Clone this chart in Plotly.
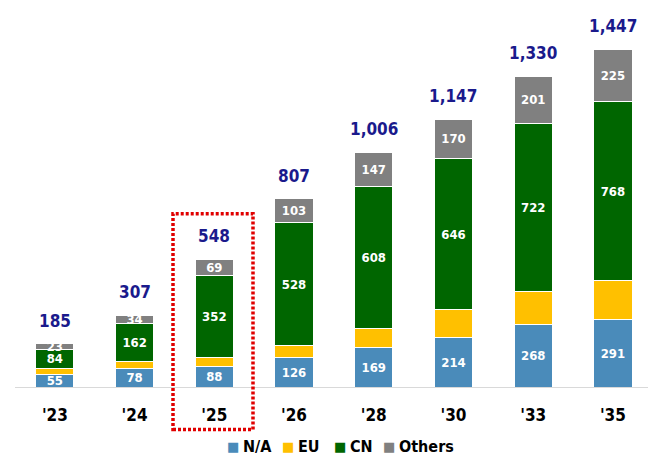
import plotly.graph_objects as go

categories = ["'23", "'24", "'25", "'26", "'28", "'30", "'33", "'35"]
na_vals = [55, 78, 88, 126, 169, 214, 268, 291]
eu_vals = [23, 33, 39, 50, 82, 117, 139, 163]
cn_vals = [84, 162, 352, 528, 608, 646, 722, 768]
others_vals = [23, 34, 69, 103, 147, 170, 201, 225]
totals = [185, 307, 548, 807, 1006, 1147, 1330, 1447]

series_names = ["N/A", "EU", "CN", "Others"]
series_colors = ["#4A8BBA", "#FFC000", "#006600", "#808080"]
series_vals = [na_vals, eu_vals, cn_vals, others_vals]
series_labeled = [True, False, True, True]

FONT = "DejaVu Sans Condensed, Liberation Sans Narrow, Liberation Sans, Arial"

fig = go.Figure()
for name, vals, color, show in zip(series_names, series_vals, series_colors, series_labeled):
    fig.add_trace(go.Bar(
        name=name, x=categories, y=vals,
        marker=dict(color=color, line=dict(color="white", width=1)),
        text=[str(v) for v in vals] if show else None,
        textposition="inside" if show else "none",
        insidetextanchor="middle",
        textangle=0,
        textfont=dict(color="white", size=13, family=FONT, weight="bold"),
        width=0.48,
        hoverinfo="skip",
        showlegend=False,
    ))

for c, t in zip(categories, totals):
    fig.add_annotation(
        x=c, y=t, text=f"{t:,}", showarrow=False, yanchor="middle",
        yshift=23, font=dict(color="#1A1A8C", size=17, family=FONT, weight="bold"),
    )

# custom legend (compact, like the reference)
legend_x = [228, 283, 335, 384]
ly = (387.5 - 447) / 377.5
for name, color, lx in zip(series_names, series_colors, legend_x):
    fig.add_annotation(
        xref="paper", yref="paper", x=(lx - 15 - 3) / 633, y=ly,
        xanchor="left", yanchor="middle", showarrow=False,
        text="■", font=dict(size=13, color=color, family="DejaVu Sans"),
    )
    fig.add_annotation(
        xref="paper", yref="paper", x=(lx + 13 - 15) / 633, y=ly,
        xanchor="left", yanchor="middle", showarrow=False,
        text=name, font=dict(size=16, color="black", family=FONT, weight="bold"),
    )

fig.add_shape(
    type="rect", xref="paper", yref="paper",
    x0=(173 - 15) / 633, x1=(253 - 15) / 633,
    y0=(387.5 - 430) / 377.5, y1=(387.5 - 214) / 377.5,
    line=dict(color="#E00000", width=3.5, dash="3px,2px"),
)

fig.update_layout(
    barmode="stack",
    width=648, height=461,
    margin=dict(l=15, r=0, t=10, b=73.5),
    plot_bgcolor="white", paper_bgcolor="white",
    uniformtext=dict(minsize=13, mode="show"),
    showlegend=False,
    xaxis=dict(
        type="category", range=[-0.5, 7.44],
        showline=True, linecolor="#D9D9D9", linewidth=1,
        ticks="", showgrid=False,
        tickfont=dict(size=17, color="black", family=FONT, weight="bold"),
        ticklabelstandoff=13,
    ),
    yaxis=dict(range=[0, 1614], visible=False, showgrid=False),
)

fig.write_html("out.html")
